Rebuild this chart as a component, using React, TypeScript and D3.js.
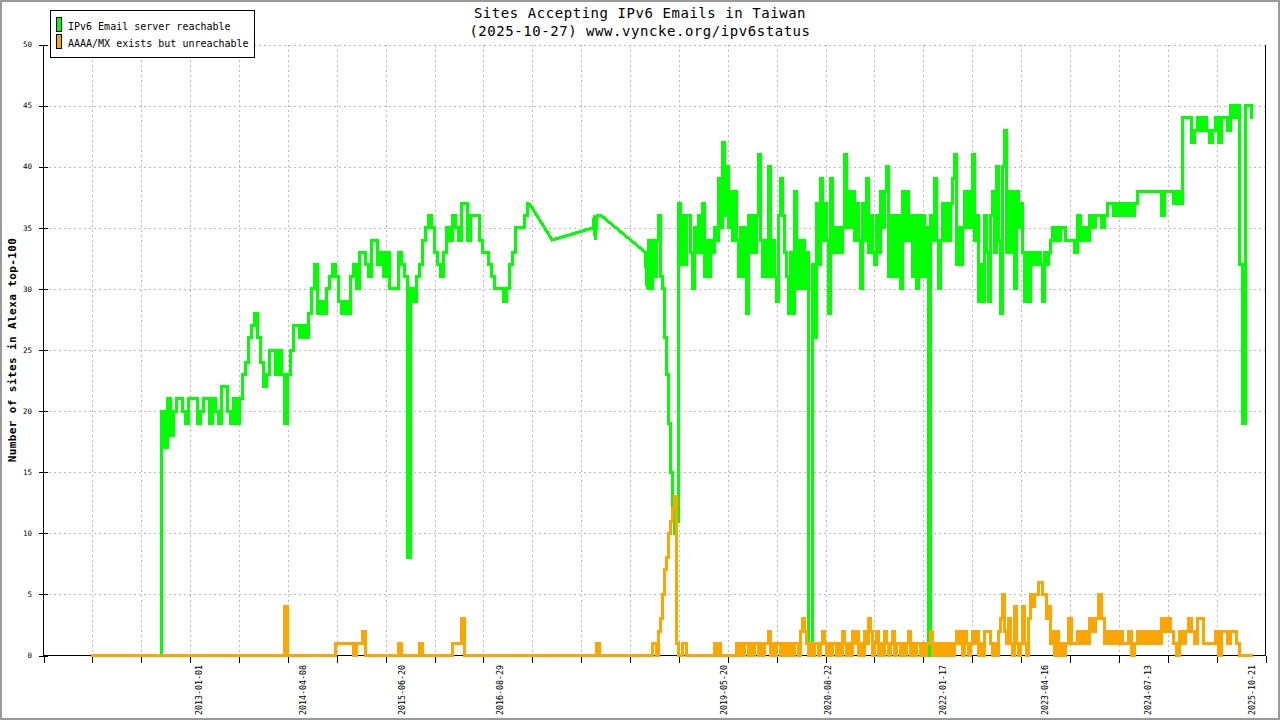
import React, { useEffect, useRef } from 'react';
import * as d3 from 'd3';

const TITLE = 'Sites Accepting IPv6 Emails in Taiwan';
const SUBTITLE = '(2025-10-27) www.vyncke.org/ipv6status';
const Y_LABEL = 'Number of sites in Alexa top-100';
const SERIES_NAMES = ['IPv6 Email server reachable', 'AAAA/MX exists but unreachable'];
const SERIES_COLORS = ['#00ff00', '#ffa500'];

const X_DOMAIN = ['2011-02-10', '2025-12-18'];
const X_TICK_INTERVALS = 25;
const X_LABELS = [
    '2013-01-01', '2014-04-08', '2015-06-20', '2016-08-29', '2019-05-20',
    '2020-08-22', '2022-01-17', '2023-04-16', '2024-07-13', '2025-10-21'
];
const Y_TICKS = [0, 5, 10, 15, 20, 25, 30, 35, 40, 45, 50];

// sampling interval of the series, in days
const WIDE_STEP = 13.32;
const DENSE_STEP = 8.88;

// reachable, 2012-07 .. 2017-01
const reachable2012Start = '2012-07-12';
const reachable2012 = [
    0, 20, 17, 21, 18, 20, 21, 21, 20, 19,
    21, 21, 21, 19, 20, 21, 21, 19, 21, 20,
    19, 22, 22, 20, 19, 21, 19, 21, 23, 24,
    26, 27, 28, 26, 24, 22, 23, 25, 25, 23,
    25, 23, 19, 23, 25, 27, 27, 26, 27, 26,
    28, 30, 32, 28, 29, 28, 30, 31, 32, 31,
    29, 28, 29, 28, 31, 32, 30, 33, 33, 32,
    31, 34, 34, 32, 33, 31, 33, 30, 30, 30,
    33, 32, 31, 8, 30, 29, 31, 32, 34, 35,
    36, 35, 33, 32, 31, 33, 35, 34, 36, 35,
    34, 37, 37, 34, 36, 36, 36, 34, 33, 33,
    32, 31, 30, 30, 30, 29, 30, 32, 33, 35,
    35, 35, 36, 37
];

// reachable, few measurements 2017 .. 2018
const reachableGapDates = ['2017-04-17', '2017-10-16', '2017-10-21', '2017-10-25', '2017-11-03', '2017-11-21', '2018-06-04'];
const reachableGapValues = [34, 35, 36, 34, 36, 36, 33];

// daily period 2018-06 .. 2023-06
const dense2018Start = '2018-06-13';
const reachable2018 = [
    30, 34, 30, 34, 31, 34, 36, 31, 30, 26,
    23, 19, 15, 12, 10, 11, 37, 32, 36, 32,
    36, 36, 33, 30, 35, 33, 36, 33, 37, 31,
    34, 31, 34, 33, 35, 34, 39, 35, 42, 36,
    40, 35, 38, 34, 38, 34, 31, 35, 31, 35,
    28, 36, 33, 36, 33, 36, 41, 34, 31, 34,
    31, 40, 31, 34, 31, 29, 36, 39, 36, 33,
    31, 28, 33, 28, 38, 30, 34, 30, 34, 30,
    33, 1, 0, 32, 26, 37, 32, 39, 34, 37,
    34, 28, 39, 33, 35, 33, 35, 33, 35, 41,
    35, 38, 35, 38, 34, 37, 34, 30, 37, 34,
    39, 33, 36, 33, 32, 36, 33, 38, 35, 38,
    40, 31, 36, 31, 36, 31, 36, 30, 38, 34,
    38, 34, 36, 31, 36, 30, 36, 31, 36, 31,
    35, 0, 36, 34, 39, 34, 30, 34, 37, 34,
    37, 34, 37, 39, 41, 32, 35, 32, 35, 38,
    35, 38, 35, 41, 34, 36, 29, 32, 29, 36,
    33, 29, 36, 38, 33, 40, 34, 28, 40, 43,
    33, 38, 33, 38, 30, 38, 35, 37, 33, 29,
    33, 29, 33, 32, 33, 32, 33, 32, 29, 33,
    32, 33, 34, 35, 34, 35, 34, 35
];
const unreachable2018 = [
    0, 0, 0, 1, 1, 0, 2, 3, 5, 7,
    8, 10, 11, 12, 13, 1, 0, 0, 1, 1,
    0, 0, 0, 0, 0, 0, 0, 0, 0, 0,
    0, 0, 0, 0, 1, 0, 1, 0, 0, 0,
    0, 0, 0, 0, 0, 1, 0, 1, 0, 1,
    1, 0, 1, 0, 1, 1, 0, 1, 0, 1,
    1, 2, 0, 1, 0, 1, 1, 0, 1, 0,
    1, 0, 1, 0, 1, 1, 0, 2, 3, 2,
    1, 0, 1, 0, 1, 1, 0, 1, 2, 1,
    0, 1, 0, 1, 1, 0, 1, 0, 2, 1,
    0, 1, 0, 2, 1, 2, 0, 1, 0, 2,
    1, 3, 2, 0, 1, 2, 0, 1, 0, 2,
    1, 0, 1, 2, 0, 1, 1, 0, 1, 0,
    1, 2, 0, 1, 0, 1, 1, 0, 1, 0,
    1, 1, 2, 0, 1, 0, 1, 0, 1, 0,
    1, 0, 1, 0, 1, 2, 1, 2, 0, 2,
    1, 0, 1, 2, 1, 2, 0, 1, 0, 2,
    2, 2, 1, 0, 1, 0, 2, 3, 5, 2,
    1, 3, 1, 0, 4, 1, 0, 1, 4, 1,
    0, 3, 5, 4, 5, 5, 6, 6, 5, 5,
    3, 4, 1, 2, 0, 2, 0, 1
];

// 2023-07 .. 2025-10
const late2023Start = '2023-07-09';
const reachable2023 = [
    35, 34, 34, 34, 33, 36, 34, 35, 34, 36,
    35, 36, 36, 35, 36, 37, 37, 36, 37, 36,
    37, 36, 37, 36, 37, 38, 38, 38, 38, 38,
    38, 38, 38, 36, 38, 38, 38, 37, 38, 37,
    44, 44, 44, 42, 43, 44, 43, 44, 43, 42,
    43, 44, 42, 44, 44, 43, 45, 44, 45, 32,
    19, 45, 45, 44
];
const unreachable2023 = [
    0, 1, 3, 1, 1, 2, 1, 2, 1, 3,
    2, 3, 5, 3, 1, 2, 1, 2, 1, 2,
    1, 1, 2, 0, 1, 2, 1, 2, 1, 2,
    1, 2, 1, 3, 2, 3, 2, 1, 0, 2,
    1, 2, 3, 2, 1, 3, 3, 1, 1, 1,
    1, 2, 0, 2, 2, 1, 2, 2, 1, 0,
    0, 0, 0, 0
];

// unreachable, 2011-09 .. 2018-06
const unreachable2011Start = '2011-09-10';
const unreachable2011 = [
    0, 0, 0, 0, 0, 0, 0, 0, 0, 0,
    0, 0, 0, 0, 0, 0, 0, 0, 0, 0,
    0, 0, 0, 0, 0, 0, 0, 0, 0, 0,
    0, 0, 0, 0, 0, 0, 0, 0, 0, 0,
    0, 0, 0, 0, 0, 0, 0, 0, 0, 0,
    0, 0, 0, 0, 0, 0, 0, 0, 0, 0,
    0, 0, 0, 0, 0, 4, 0, 0, 0, 0,
    0, 0, 0, 0, 0, 0, 0, 0, 0, 0,
    0, 0, 1, 1, 1, 1, 1, 1, 0, 1,
    1, 2, 0, 0, 0, 0, 0, 0, 0, 0,
    0, 0, 0, 1, 0, 0, 0, 0, 0, 0,
    1, 0, 0, 0, 0, 0, 0, 0, 0, 0,
    0, 1, 1, 1, 3, 0, 0, 0, 0, 0,
    0, 0, 0, 0, 0, 0, 0, 0, 0, 0,
    0, 0, 0, 0, 0, 0, 0, 0, 0, 0,
    0, 0, 0, 0, 0, 0, 0, 0, 0, 0,
    0, 0, 0, 0, 0, 0, 0, 0, 0, 1,
    0, 0, 0, 0, 0, 0, 0, 0, 0, 0,
    0, 0, 0, 0, 0, 0
];

interface Point { date: Date; value: number; }

const parseDate = d3.utcParse('%Y-%m-%d');

const sampled = (start: string, stepDays: number, values: number[]): Point[] => {
    const t0 = (parseDate(start) as Date).getTime();
    return values.map((value, i) => ({ date: new Date(t0 + i * stepDays * 864e5), value }));
};

const App: React.FC = () => {
    const svgRef = useRef<SVGSVGElement>(null);

    useEffect(() => {
        document.body.style.margin = '0';
        if (!svgRef.current) return;
        const svg = d3.select(svgRef.current);
        svg.selectAll('*').remove();

        const width = 1280;
        const height = 720;
        const font = "'DejaVu Sans Mono', 'Liberation Mono', monospace";

        const x = d3.scaleUtc()
            .domain(X_DOMAIN.map(d => parseDate(d) as Date))
            .range([43.5, 1265.5]);
        const y = d3.scaleLinear().domain([0, 50]).range([655.5, 44.5]);

        // background + outer frame
        svg.append('rect')
            .attr('width', width)
            .attr('height', height)
            .attr('fill', '#ffffff');
        svg.append('rect')
            .attr('x', 1).attr('y', 1)
            .attr('width', width - 2).attr('height', height - 2)
            .attr('fill', 'none')
            .attr('stroke', '#999999')
            .attr('stroke-width', 2);

        const [t0, t1] = x.domain().map(d => d.getTime());
        const xTicks = d3.range(X_TICK_INTERVALS + 1)
            .map(i => new Date(t0 + (i * (t1 - t0)) / X_TICK_INTERVALS));

        // grid
        const grid = svg.append('g')
            .attr('stroke', '#bbbbbb')
            .attr('stroke-dasharray', '2,3')
            .attr('shape-rendering', 'crispEdges');
        grid.selectAll('.vgrid')
            .data(xTicks.slice(1, -1))
            .enter()
            .append('line')
            .attr('x1', d => Math.round(x(d)) + 0.5)
            .attr('x2', d => Math.round(x(d)) + 0.5)
            .attr('y1', y(50))
            .attr('y2', y(0));
        grid.selectAll('.hgrid')
            .data(Y_TICKS.slice(1))
            .enter()
            .append('line')
            .attr('x1', x.range()[0])
            .attr('x2', x.range()[1])
            .attr('y1', d => Math.round(y(d)) + 0.5)
            .attr('y2', d => Math.round(y(d)) + 0.5);

        // axes
        const axes = svg.append('g')
            .attr('stroke', '#000000')
            .attr('stroke-width', 1)
            .attr('shape-rendering', 'crispEdges');
        axes.append('line')
            .attr('x1', x.range()[0]).attr('x2', x.range()[0])
            .attr('y1', y(50)).attr('y2', y(0));
        axes.append('line')
            .attr('x1', x.range()[1]).attr('x2', x.range()[1])
            .attr('y1', y(50)).attr('y2', y(0));
        axes.append('line')
            .attr('x1', x.range()[0]).attr('x2', x.range()[1])
            .attr('y1', y(0)).attr('y2', y(0));
        axes.selectAll('.ytick')
            .data(Y_TICKS)
            .enter()
            .append('line')
            .attr('x1', x.range()[0] - 5)
            .attr('x2', x.range()[0] + 4)
            .attr('y1', d => Math.round(y(d)) + 0.5)
            .attr('y2', d => Math.round(y(d)) + 0.5);
        axes.selectAll('.xtick')
            .data(xTicks)
            .enter()
            .append('line')
            .attr('x1', d => Math.round(x(d)) + 0.5)
            .attr('x2', d => Math.round(x(d)) + 0.5)
            .attr('y1', y(0))
            .attr('y2', y(0) + 7);

        // tick labels
        svg.append('g')
            .selectAll('text')
            .data(Y_TICKS)
            .enter()
            .append('text')
            .attr('x', 32)
            .attr('y', d => y(d) + 2.7)
            .attr('text-anchor', 'end')
            .attr('font-family', font)
            .attr('font-size', '7.5px')
            .attr('fill', '#000')
            .text(d => d);

        svg.append('g')
            .selectAll('text')
            .data(X_LABELS)
            .enter()
            .append('text')
            .attr('transform', d => `translate(${x(parseDate(d) as Date) + 3}, 665) rotate(-90)`)
            .attr('text-anchor', 'end')
            .attr('font-family', font)
            .attr('font-size', '8.3px')
            .attr('fill', '#000')
            .text(d => d);

        // series
        const reachableEarly = sampled(reachable2012Start, WIDE_STEP, reachable2012);
        const reachableGap: Point[] = reachableGapDates.map((d, i) => ({ date: parseDate(d) as Date, value: reachableGapValues[i] }));
        const reachableLate = [
            ...sampled(dense2018Start, DENSE_STEP, reachable2018),
            ...sampled(late2023Start, WIDE_STEP, reachable2023)
        ];
        const unreachable = [
            ...sampled(unreachable2011Start, WIDE_STEP, unreachable2011),
            ...sampled(dense2018Start, DENSE_STEP, unreachable2018),
            ...sampled(late2023Start, WIDE_STEP, unreachable2023)
        ];

        const stepLine = d3.line<Point>()
            .x(d => x(d.date))
            .y(d => y(d.value))
            .curve(d3.curveStep);
        const straightLine = d3.line<Point>()
            .x(d => x(d.date))
            .y(d => y(d.value));

        const drawPath = (pathData: string | null, color: string) => {
            svg.append('path')
                .attr('d', pathData)
                .attr('fill', 'none')
                .attr('stroke', color)
                .attr('stroke-width', 3)
                .attr('shape-rendering', 'crispEdges');
        };

        drawPath(stepLine(reachableEarly), SERIES_COLORS[0]);
        drawPath(straightLine([
            reachableEarly[reachableEarly.length - 1],
            ...reachableGap,
            reachableLate[0]
        ]), SERIES_COLORS[0]);
        drawPath(stepLine(reachableLate), SERIES_COLORS[0]);
        drawPath(stepLine(unreachable), SERIES_COLORS[1]);

        // title
        svg.append('text')
            .attr('x', width / 2)
            .attr('y', 18)
            .attr('text-anchor', 'middle')
            .attr('font-family', font)
            .attr('font-size', '14px')
            .attr('letter-spacing', '0.55px')
            .attr('fill', '#000')
            .text(TITLE);
        svg.append('text')
            .attr('x', width / 2)
            .attr('y', 36)
            .attr('text-anchor', 'middle')
            .attr('font-family', font)
            .attr('font-size', '14px')
            .attr('letter-spacing', '0.55px')
            .attr('fill', '#000')
            .text(SUBTITLE);

        // y label
        svg.append('text')
            .attr('transform', `translate(16, ${(y(0) + y(50)) / 2}) rotate(-90)`)
            .attr('text-anchor', 'middle')
            .attr('font-family', font)
            .attr('font-size', '11px')
            .attr('font-weight', 'bold')
            .attr('letter-spacing', '0.4px')
            .attr('fill', '#000')
            .text(Y_LABEL);

        // legend
        const legend = svg.append('g');
        legend.append('rect')
            .attr('x', 50.5).attr('y', 10.5)
            .attr('width', 204).attr('height', 47)
            .attr('fill', '#ffffff')
            .attr('stroke', '#000')
            .attr('shape-rendering', 'crispEdges');
        SERIES_NAMES.forEach((name, i) => {
            legend.append('rect')
                .attr('x', 56.5).attr('y', 17.5 + i * 17)
                .attr('width', 5).attr('height', 14)
                .attr('fill', SERIES_COLORS[i])
                .attr('stroke', '#000')
                .attr('shape-rendering', 'crispEdges');
            legend.append('text')
                .attr('x', 68)
                .attr('y', 29.5 + i * 17.3)
                .attr('font-family', font)
                .attr('font-size', '10px')
                .attr('fill', '#000')
                .text(name);
        });
    }, []);

    return <svg ref={svgRef} width={1280} height={720} style={{ display: 'block' }}></svg>;
};

export default App;
